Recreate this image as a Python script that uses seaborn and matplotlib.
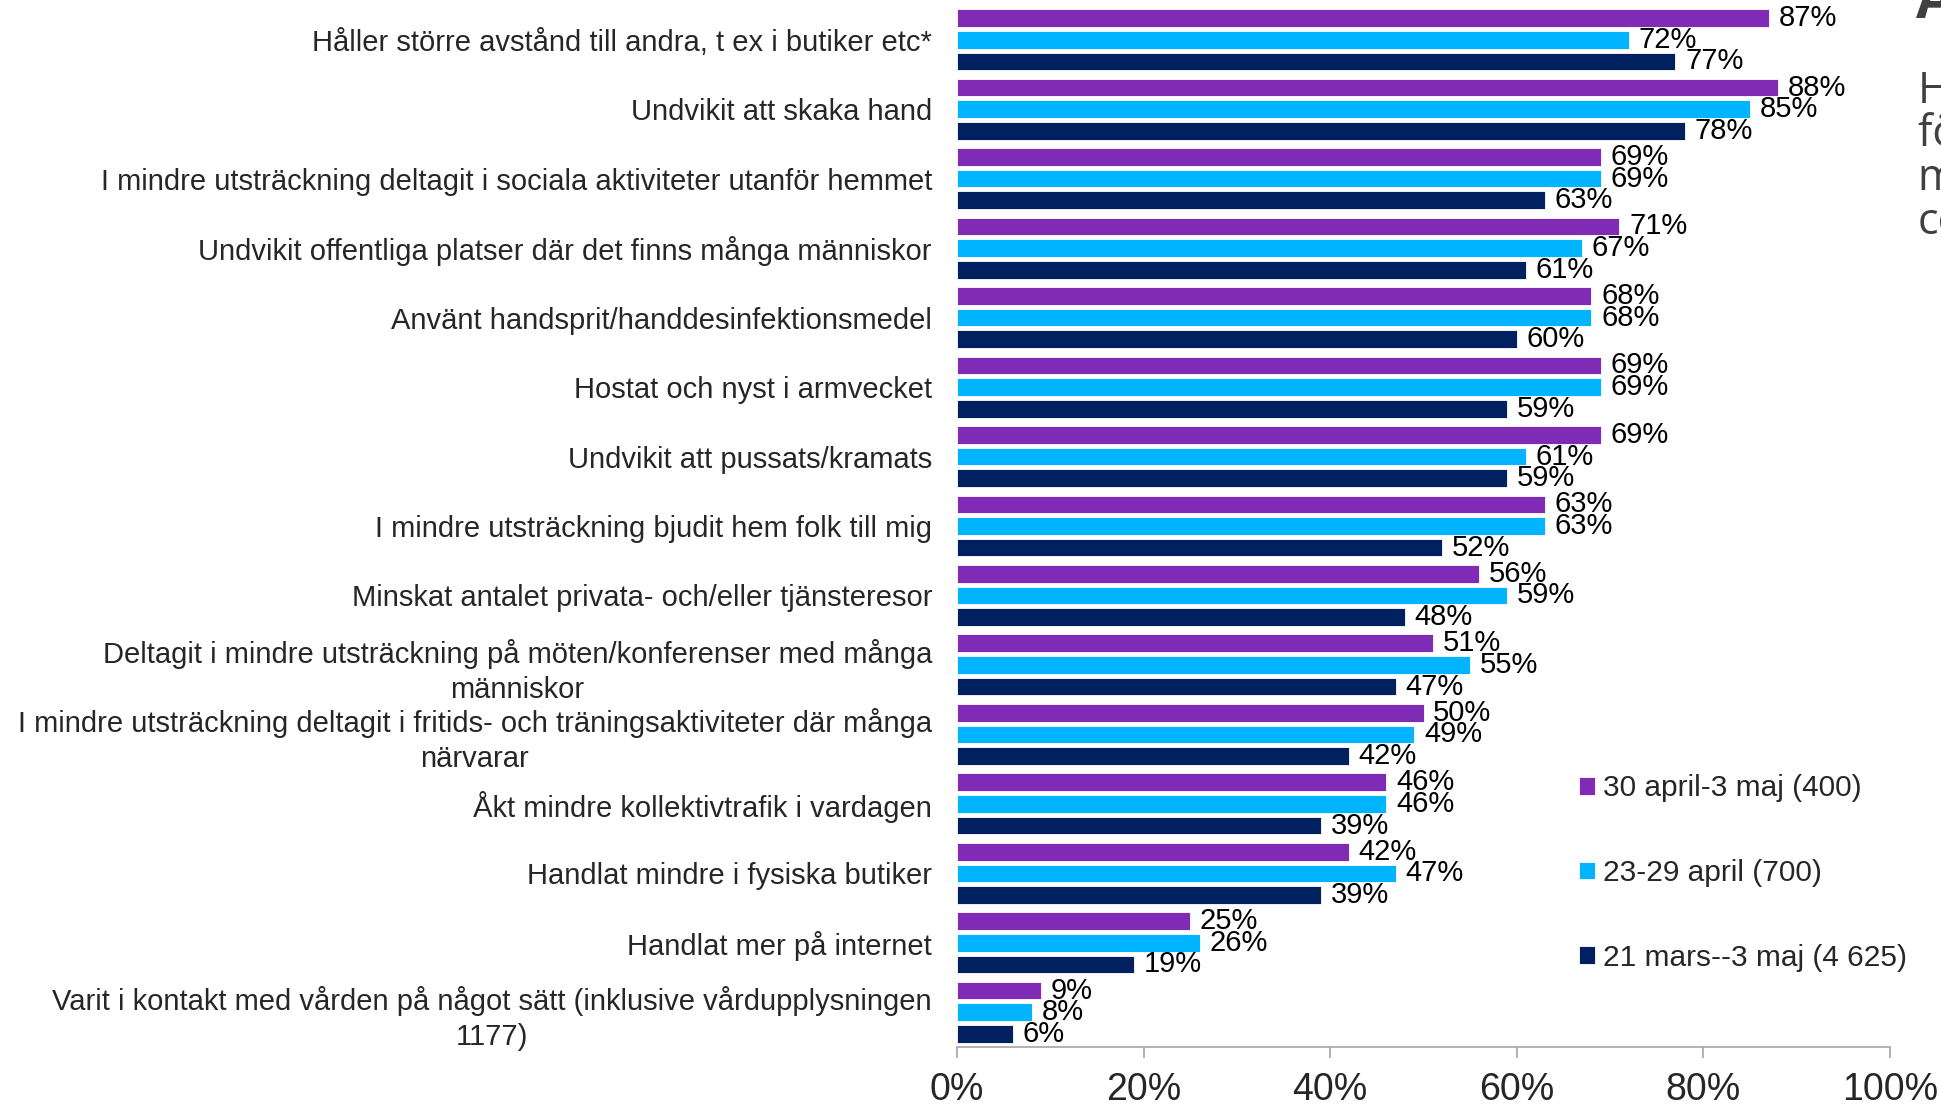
import numpy as np
import pandas as pd
import matplotlib.pyplot as plt
import seaborn as sns

# kategorier (uppifrån och ned)
categories = [
    'Håller större avstånd till andra, t ex i butiker etc*',
    'Undvikit att skaka hand',
    'I mindre utsträckning deltagit i sociala aktiviteter utanför hemmet',
    'Undvikit offentliga platser där det finns många människor',
    'Använt handsprit/handdesinfektionsmedel',
    'Hostat och nyst i armvecket',
    'Undvikit att pussats/kramats',
    'I mindre utsträckning bjudit hem folk till mig',
    'Minskat antalet privata- och/eller tjänsteresor',
    'Deltagit i mindre utsträckning på möten/konferenser med många\nmänniskor',
    'I mindre utsträckning deltagit i fritids- och träningsaktiviteter där många\nnärvarar',
    'Åkt mindre kollektivtrafik i vardagen',
    'Handlat mindre i fysiska butiker',
    'Handlat mer på internet',
    'Varit i kontakt med vården på något sätt (inklusive vårdupplysningen\n1177)',
]

# andel i procent per period
v_30apr_3maj = [87, 88, 69, 71, 68, 69, 69, 63, 56, 51, 50, 46, 42, 25, 9]
v_23_29apr = [72, 85, 69, 67, 68, 69, 61, 63, 59, 55, 49, 46, 47, 26, 8]
v_21mar_3maj = [77, 78, 63, 61, 60, 59, 59, 52, 48, 47, 42, 39, 39, 19, 6]

series = ['30 april-3 maj (400)', '23-29 april (700)', '21 mars--3 maj (4 625)']
colors = ['#7F2BB5', '#00B4FF', '#002060']
xticks = [0, 20, 40, 60, 80, 100]

wide = pd.DataFrame({'kategori': categories,
                     series[0]: v_30apr_3maj,
                     series[1]: v_23_29apr,
                     series[2]: v_21mar_3maj})
df = wide.melt(id_vars='kategori', var_name='period', value_name='andel')

sns.set_style('white')
plt.rcParams['font.family'] = ['Liberation Sans', 'DejaVu Sans']

fig = plt.figure(figsize=(19.41, 11.07), dpi=100)
ax = fig.add_axes([957 / 1941, 1 - 1047 / 1107, 933 / 1941, 1042 / 1107])

sns.barplot(data=df, y='kategori', x='andel', hue='period', hue_order=series,
            order=categories, palette=colors, saturation=1, orient='h',
            width=0.935, gap=0.185, edgecolor='white', linewidth=0.6,
            errorbar=None, ax=ax)

# värdeetiketter
for cont in ax.containers:
    ax.bar_label(cont, labels=[f'{v:.0f}%' for v in cont.datavalues],
                 padding=7, fontsize=21, color='black')

ax.set_xlim(0, 100)
ax.set_ylim(len(categories) - 0.5, -0.5)
ax.set_xticks(xticks, labels=[f'{t}%' for t in xticks])
ax.set_xlabel('')
ax.set_ylabel('')
for lbl in ax.get_yticklabels():
    lbl.set_multialignment('center')
    lbl.set_linespacing(1.3)

sns.despine(ax=ax, left=True)
ax.spines['bottom'].set_color('#A6A6A6')
ax.spines['bottom'].set_linewidth(1.2)
ax.tick_params(axis='x', direction='out', length=8, width=1.2, color='#A6A6A6',
               labelsize=27, pad=10, bottom=True)
ax.tick_params(axis='y', length=0, labelsize=21, pad=18)

# förklaring
handles, labels = ax.get_legend_handles_labels()
ax.legend(handles, labels, loc='center left', bbox_to_anchor=(1567 / 1941, 1 - 873 / 1107),
          bbox_transform=fig.transFigure, frameon=False, fontsize=21.5,
          handlelength=0.54, handleheight=0.54, handletextpad=0.25,
          labelspacing=1.9, borderaxespad=0)

# avskuren text till höger
fig.text(1916 / 1941, 1 - 17 / 1107, 'Andel', fontsize=40, fontweight='bold',
         color='#404040', family=['Open Sans', 'DejaVu Sans'], va='baseline')
side_lines = ['Hur har du', 'förändrat ditt', 'mönster med', 'coronaviruset?']
for i, line in enumerate(side_lines):
    fig.text(1918 / 1941, 1 - (103 + i * 43.5) / 1107, line, fontsize=31,
             color='#404040', family=['Open Sans', 'DejaVu Sans'], va='baseline')

fig.savefig('out.png', dpi=100)
